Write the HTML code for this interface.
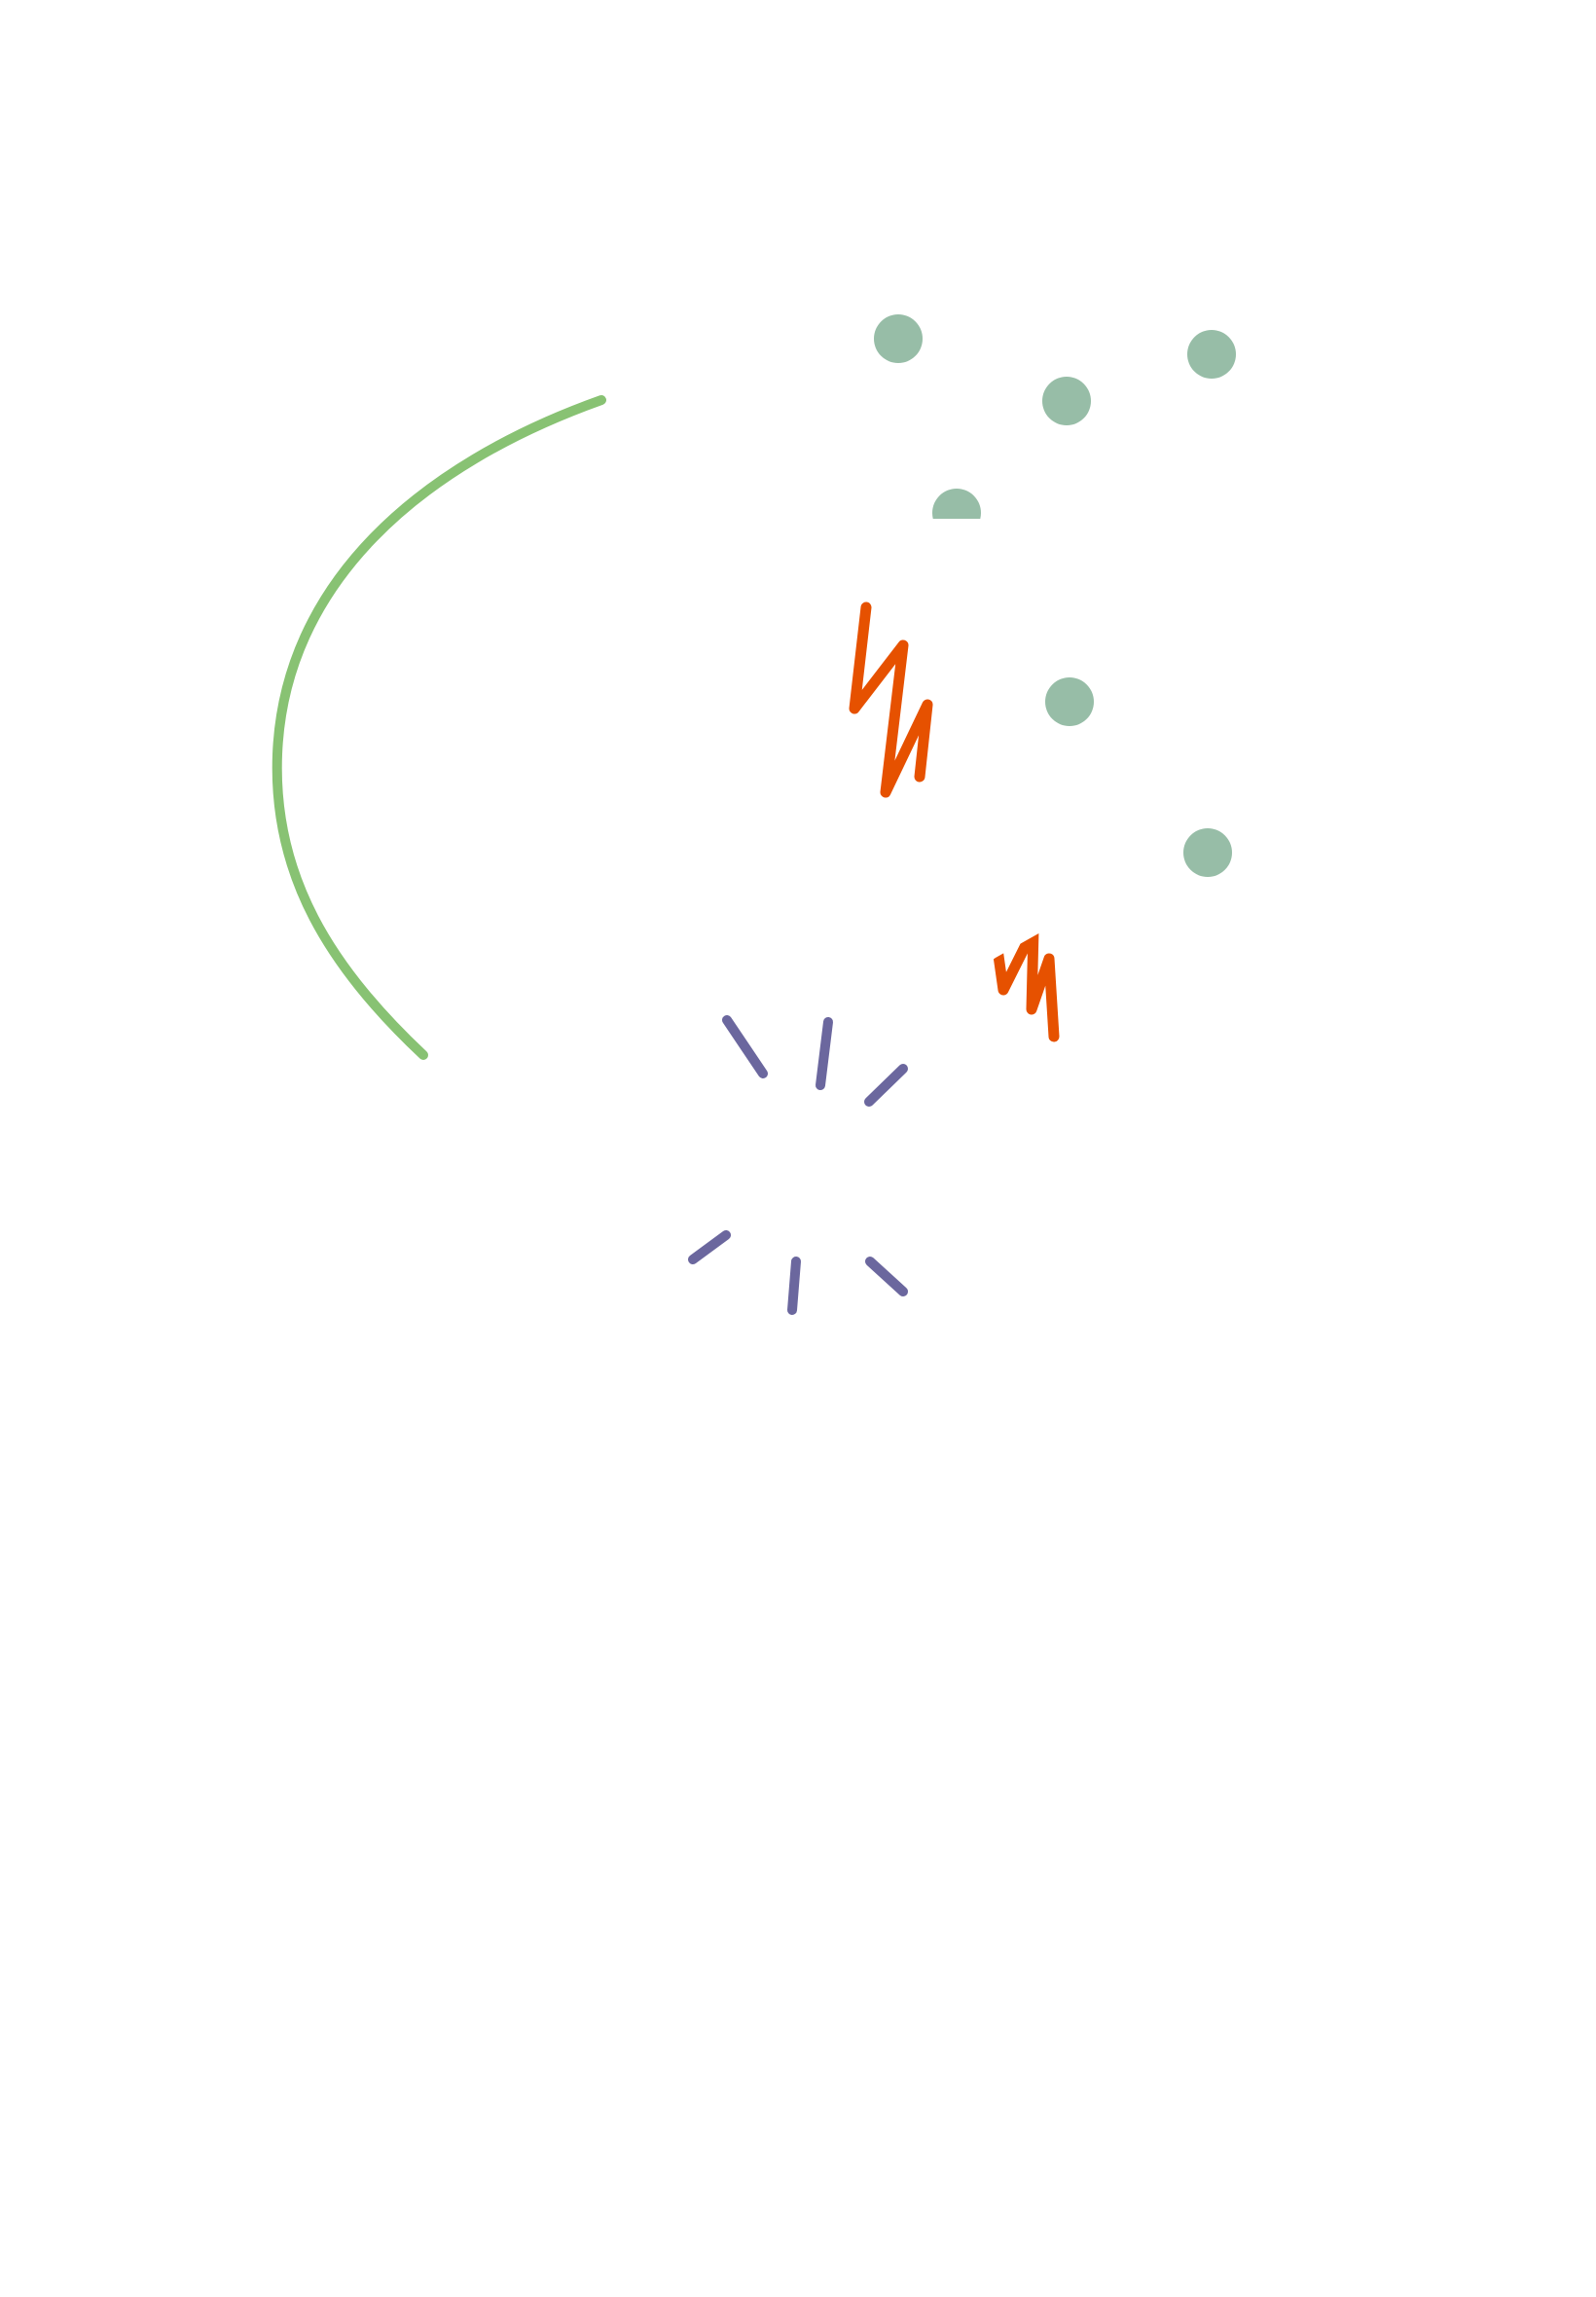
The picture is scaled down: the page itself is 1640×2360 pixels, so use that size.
<!DOCTYPE html>
<html><head><meta charset="utf-8"><style>html,body{margin:0;padding:0;background:#fff;}svg{display:block}</style></head>
<body>
<svg width="1640" height="2360" viewBox="0 0 1640 2360" xmlns="http://www.w3.org/2000/svg">
<defs>
<clipPath id="half"><rect x="900" y="480" width="120" height="53"/></clipPath>
<clipPath id="cut"><polygon points="1000,1000 1023,984 1062,962 1120,930 1120,1100 1000,1100"/></clipPath>
</defs>
<path d="M618,411 C430,478 292,600 285,775 C280,900 340,995 435,1084" fill="none" stroke="#88c273" stroke-width="10" stroke-linecap="round"/>
<g fill="#97bda7">
<circle cx="923" cy="348" r="25"/>
<circle cx="1096" cy="412" r="25"/>
<circle cx="1245" cy="364" r="25"/>
<circle cx="983" cy="527" r="25" clip-path="url(#half)"/>
<circle cx="1099" cy="721" r="25"/>
<circle cx="1241" cy="876" r="25"/>
</g>
<g fill="none" stroke="#e65100" stroke-width="11" stroke-linecap="round" stroke-linejoin="round">
<polyline points="890,624 878,728 928,663 910,814 953,724 945,798"/>
<polyline clip-path="url(#cut)" points="1025,975 1031,1017 1062,955 1060,1037 1078,985 1083,1065"/>
</g>
<g stroke="#6b679e" stroke-width="10" stroke-linecap="round">
<line x1="747" y1="1048" x2="784" y2="1103"/>
<line x1="851" y1="1050" x2="843" y2="1115"/>
<line x1="928" y1="1098" x2="893" y2="1132"/>
<line x1="746" y1="1269" x2="712" y2="1294"/>
<line x1="818" y1="1296" x2="814" y2="1346"/>
<line x1="894" y1="1296" x2="928" y2="1327"/>
</g>
</svg>
</body></html>
